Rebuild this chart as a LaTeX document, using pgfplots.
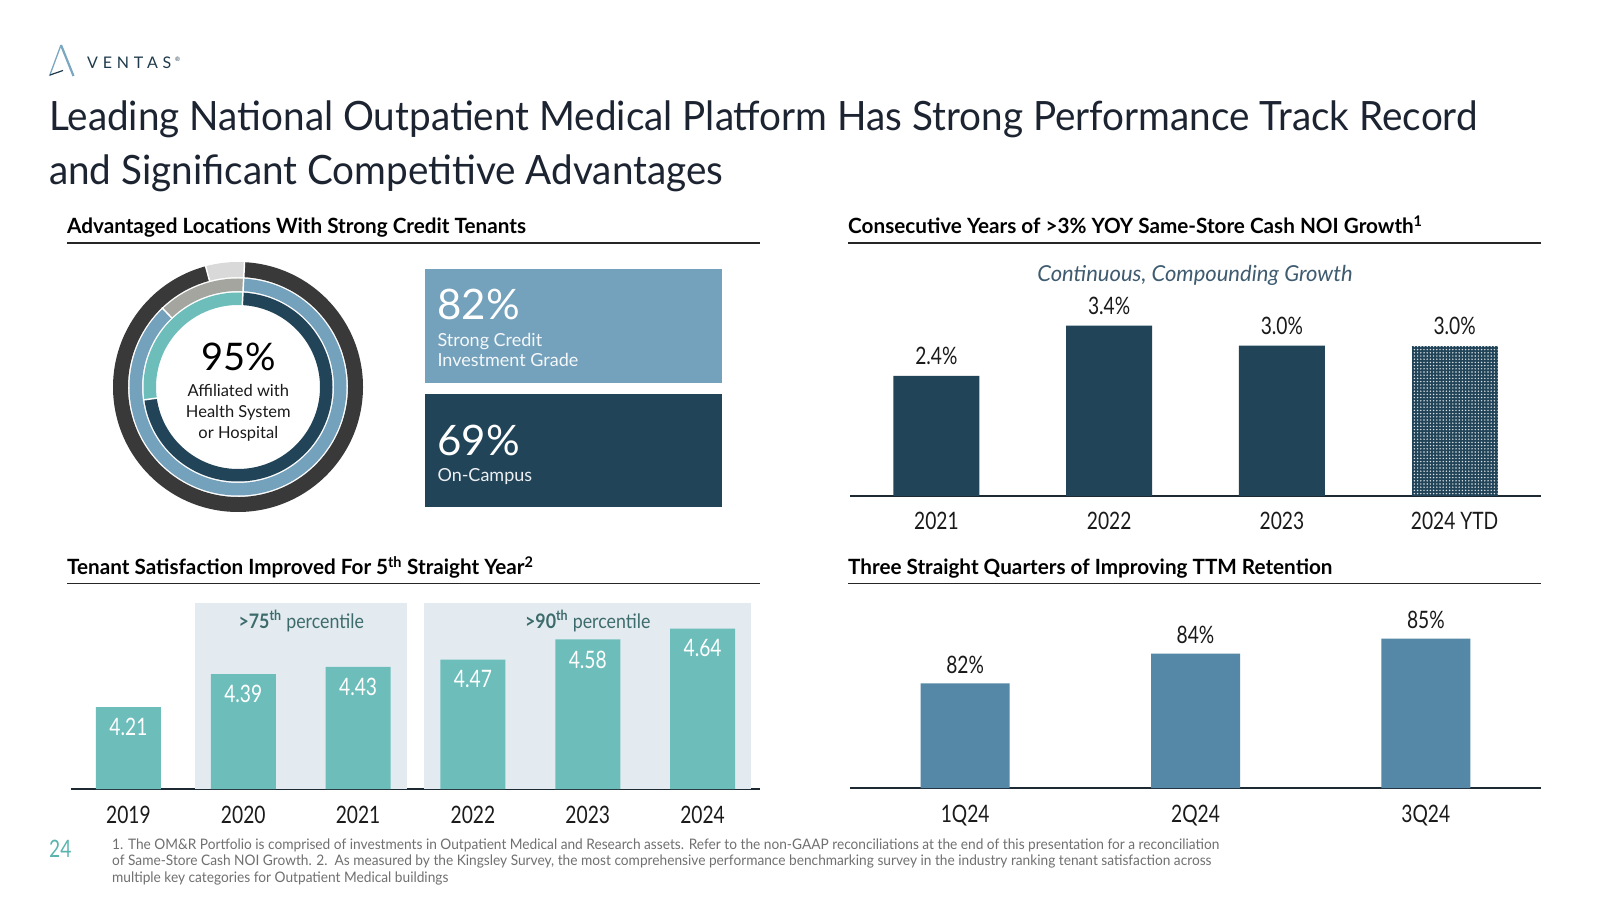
\documentclass[border=0pt]{standalone}
\usepackage{fontspec}
\setmainfont{Lato}
\newfontfamily\condfont[FakeStretch=0.8]{Lato}
\newfontfamily\pctfont[FakeStretch=0.89]{Lato}
\newfontfamily\footfont[FakeStretch=0.945]{Lato}
\newfontfamily\headfont[FakeStretch=0.985]{Lato}
\newfontfamily\titlefont[FakeStretch=0.957]{Lato}
\usepackage{pgfplots}
\pgfplotsset{compat=1.18}
\usetikzlibrary{patterns.meta}

\definecolor{navy}{HTML}{224459}
\definecolor{bluegray}{HTML}{74A1BB}
\definecolor{tealc}{HTML}{6DBDBB}
\definecolor{retc}{HTML}{5488A6}
\definecolor{ringdark}{HTML}{393939}
\definecolor{ringlight}{HTML}{D9D9D9}
\definecolor{ringgray}{HTML}{A5A5A0}
\definecolor{panelc}{HTML}{E3EBF0}
\definecolor{titlec}{HTML}{1C2331}
\definecolor{axisc}{HTML}{1E2A33}
\definecolor{footc}{HTML}{707070}
\definecolor{pagec}{HTML}{5AB4AE}
\definecolor{pctc}{HTML}{3D6B6B}
\definecolor{italc}{HTML}{3E5B70}
\definecolor{logoc}{HTML}{7AA7C1}
\definecolor{ventasc}{HTML}{1E3A4C}
\definecolor{textc}{HTML}{1A1A1A}

% donut ring segment: colour, inner r, outer r, start angle, end angle
\newcommand{\seg}[5]{%
  \fill[#1] ({#3*cos(#4)},{#3*sin(#4)}) arc[start angle=#4, end angle=#5, radius=#3pt]
    -- ({#2*cos(#5)},{#2*sin(#5)}) arc[start angle=#5, end angle=#4, radius=#2pt] -- cycle;}
\newcommand{\sep}[3]{%
  \draw[white, line width=1.5pt] ({#1*cos(#3)},{#1*sin(#3)}) -- ({#2*cos(#3)},{#2*sin(#3)});}

% donut shares (percent)
\def\pctOuter{95}
\def\pctMiddle{87}
\def\pctInner{72}
\def\startAng{87}

\pgfplotsset{
  barchart/.style={
    scale only axis, anchor=south west,
    axis y line=none, axis x line*=bottom,
    x axis line style={axisc, line width=1.5pt, -},
    xtick style={draw=none}, ytick=\empty,
    xticklabel style={font=\condfont\fontsize{24}{28}\selectfont, text=textc, inner sep=0pt},
    ybar, bar shift=0pt,
    /pgf/number format/assume math mode=true,
    every node near coord/.append style={font=\condfont\fontsize{24}{28}\selectfont, inner sep=0pt},
  }
}

\begin{document}
\begin{tikzpicture}[x=1pt,y=1pt]
\path[use as bounding box] (0,0) rectangle (1600,900);
\fill[white] (0,0) rectangle (1600,900);

% ---------- logo ----------
\draw[logoc, line width=1.3pt] (49.5,824) -- (61,855);
\draw[logoc, line width=2.2pt] (61,855) -- (73.5,824);
\draw[ventasc, line width=1.2pt] (50,825) -- (63,829.5);
\node[anchor=base west, inner sep=0, text=ventasc] at (87,831.7)
  {\fontsize{16}{19}\selectfont\addfontfeature{LetterSpace=30}VENTAS};
\node[anchor=base west, inner sep=0, text=ventasc] at (175,838)
  {\fontsize{6}{7}\selectfont ®};

% ---------- title ----------
\node[anchor=base west, inner sep=0, text=titlec] at (49,769.3)
  {\titlefont\fontsize{40.4}{48}\selectfont Leading National Outpatient Medical Platform Has Strong Performance Track Record};
\node[anchor=base west, inner sep=0, text=titlec] at (49,715)
  {\titlefont\fontsize{40.4}{48}\selectfont and Significant Competitive Advantages};

% ---------- section headers ----------
\node[anchor=base west, inner sep=0, text=black] at (67,666)
  {\headfont\bfseries\fontsize{21}{24}\selectfont Advantaged Locations With Strong Credit Tenants};
\node[anchor=base west, inner sep=0, text=black] at (848,666)
  {\headfont\bfseries\fontsize{21}{24}\selectfont Consecutive Years of >3\% YOY Same-Store Cash NOI Growth\textsuperscript{1}};
\node[anchor=base west, inner sep=0, text=black] at (67,325)
  {\headfont\bfseries\fontsize{21}{24}\selectfont Tenant Satisfaction Improved For 5\textsuperscript{th} Straight Year\textsuperscript{2}};
\node[anchor=base west, inner sep=0, text=black] at (848,325)
  {\headfont\bfseries\fontsize{21}{24}\selectfont Three Straight Quarters of Improving TTM Retention};
\draw[black!85, line width=1.5pt] (67,657) -- (760,657);
\draw[black!85, line width=1.5pt] (848,657) -- (1541,657);
\draw[black!85, line width=1.5pt] (67,316.3) -- (760,316.3);
\draw[black!85, line width=1.5pt] (848,316.3) -- (1541,316.3);

% ---------- donut ----------
\pgfmathsetmacro{\aO}{\startAng-3.6*\pctOuter}
\pgfmathsetmacro{\aM}{\startAng-3.6*\pctMiddle}
\pgfmathsetmacro{\aI}{\startAng-3.6*\pctInner}
\pgfmathsetmacro{\aEnd}{\startAng-360}
\begin{axis}[at={(238pt,513pt)}, anchor=center, hide axis, x=1pt, y=1pt,
  xmin=-130, xmax=130, ymin=-130, ymax=130, clip=false]
  \seg{ringdark}{110}{125}{\startAng}{\aO}
  \seg{ringlight}{110}{125}{\aO}{\aEnd}
  \seg{bluegray}{96}{108.5}{\startAng}{\aM}
  \seg{ringgray}{96}{108.5}{\aM}{\aEnd}
  \seg{navy}{82}{94.5}{\startAng}{\aI}
  \seg{tealc}{82}{94.5}{\aI}{\aEnd}
  \sep{109}{126}{\startAng}
  \sep{109}{126}{\aO}
  \sep{95}{110}{\startAng}
  \sep{95}{110}{\aM}
  \sep{81}{96}{\startAng}
  \sep{81}{96}{\aI}
\end{axis}
\node[anchor=base, inner sep=0, text=black] at (238.3,529.3)
  {\fontsize{38}{44}\selectfont 95\%};
\node[anchor=base, inner sep=0, text=textc] at (238.3,503.3)
  {\fontsize{16.5}{20}\selectfont Affiliated with};
\node[anchor=base, inner sep=0, text=textc] at (238.3,482.3)
  {\fontsize{16.5}{20}\selectfont Health System};
\node[anchor=base, inner sep=0, text=textc] at (238.3,461.7)
  {\fontsize{16.5}{20}\selectfont or Hospital};

% ---------- boxes ----------
\fill[bluegray] (424.5,517.4) rectangle (721.5,631);
\fill[navy] (424.5,393) rectangle (721.5,506);
\node[anchor=base west, inner sep=0, text=white] at (437.3,580)
  {\fontsize{42}{48}\selectfont 82\%};
\node[anchor=base west, inner sep=0, text=white!92!bluegray] at (437.3,553.3)
  {\fontsize{18}{21}\selectfont Strong Credit};
\node[anchor=base west, inner sep=0, text=white!92!bluegray] at (437.3,533.3)
  {\fontsize{18}{21}\selectfont Investment Grade};
\node[anchor=base west, inner sep=0, text=white] at (437.3,444)
  {\fontsize{42}{48}\selectfont 69\%};
\node[anchor=base west, inner sep=0, text=white!92!navy] at (437.3,418.3)
  {\fontsize{18}{21}\selectfont On-Campus};

% ---------- top right: same-store cash NOI growth ----------
\node[text=italc, inner sep=0] at (1195,624.5)
  {\fontsize{22}{26}\selectfont\itshape Continuous, Compounding Growth};
\begin{axis}[barchart, at={(850pt,404pt)}, width=691pt, height=200.4pt,
  xmin=-0.5, xmax=3.5, ymin=0, ymax=4, clip=false,
  bar width=86pt,
  xtick={0,1,2,3}, xticklabels={2021,2022,2023,2024 YTD},
  xticklabel style={yshift=-12pt},
  nodes near coords={\pgfmathprintnumber[fixed,fixed zerofill,precision=1]{\pgfplotspointmeta}\%},
  every node near coord/.append style={anchor=south, yshift=11pt, text=textc}]
  \addplot[fill=navy, draw=none] coordinates {(0,2.4) (1,3.4) (2,3.0)};
  \addplot[fill=navy, draw=none, postaction={pattern={Dots[distance=3.2pt, radius=0.8pt]}, pattern color=white!85!navy}] coordinates {(3,3.0)};
\end{axis}

% ---------- bottom left: tenant satisfaction ----------
\begin{axis}[barchart, at={(71pt,111pt)}, width=689pt, height=189.7pt,
  xmin=-0.5, xmax=5.5, ymin=3.761, ymax=4.80,
  bar width=65pt,
  xtick={0,1,2,3,4,5}, xticklabels={2019,2020,2021,2022,2023,2024},
  xticklabel style={yshift=-12.7pt},
  nodes near coords={\pgfmathprintnumber[fixed,fixed zerofill,precision=2]{\pgfplotspointmeta}},
  every node near coord/.append style={anchor=north, yshift=-11pt, text=white}]
  \fill[panelc] (axis cs:0.58,3.761) rectangle (axis cs:2.43,4.78);
  \fill[panelc] (axis cs:2.57,3.761) rectangle (axis cs:5.42,4.78);
  \node[text=pctc, inner sep=0] at (axis cs:1.505,4.681)
    {\pctfont\fontsize{20}{24}\selectfont\textbf{>75\textsuperscript{th}} percentile};
  \node[text=pctc, inner sep=0] at (axis cs:4.0,4.681)
    {\pctfont\fontsize{20}{24}\selectfont\textbf{>90\textsuperscript{th}} percentile};
  \addplot[fill=tealc, draw=none] coordinates {(0,4.21) (1,4.39) (2,4.43) (3,4.47) (4,4.58) (5,4.64)};
\end{axis}

% ---------- bottom right: TTM retention ----------
\begin{axis}[barchart, at={(850pt,112pt)}, width=691pt, height=194.1pt,
  xmin=-0.5, xmax=2.5, ymin=75, ymax=88,
  bar width=89pt,
  xtick={0,1,2}, xticklabels={1Q24,2Q24,3Q24},
  xticklabel style={yshift=-12.7pt},
  nodes near coords={\pgfmathprintnumber[fixed,precision=0]{\pgfplotspointmeta}\%},
  every node near coord/.append style={anchor=south, yshift=10pt, text=textc}]
  \addplot[fill=retc, draw=none] coordinates {(0,82) (1,84) (2,85)};
\end{axis}

% ---------- footer ----------
\node[anchor=base west, inner sep=0, text=pagec] at (49,43)
  {\condfont\fontsize{24}{28}\selectfont 24};
\node[anchor=base west, inner sep=0, text=footc] at (112,50.5)
  {\footfont\fontsize{14.5}{16}\selectfont 1. The OM\&R Portfolio is comprised of investments in Outpatient Medical and Research assets. Refer to the non-GAAP reconciliations at the end of this presentation for a reconciliation};
\node[anchor=base west, inner sep=0, text=footc] at (112,34.5)
  {\footfont\fontsize{14.5}{16}\selectfont of Same-Store Cash NOI Growth. 2.\ \ As measured by the Kingsley Survey, the most comprehensive performance benchmarking survey in the industry ranking tenant satisfaction across};
\node[anchor=base west, inner sep=0, text=footc] at (112,18)
  {\footfont\fontsize{14.5}{16}\selectfont multiple key categories for Outpatient Medical buildings};
\end{tikzpicture}
\end{document}
